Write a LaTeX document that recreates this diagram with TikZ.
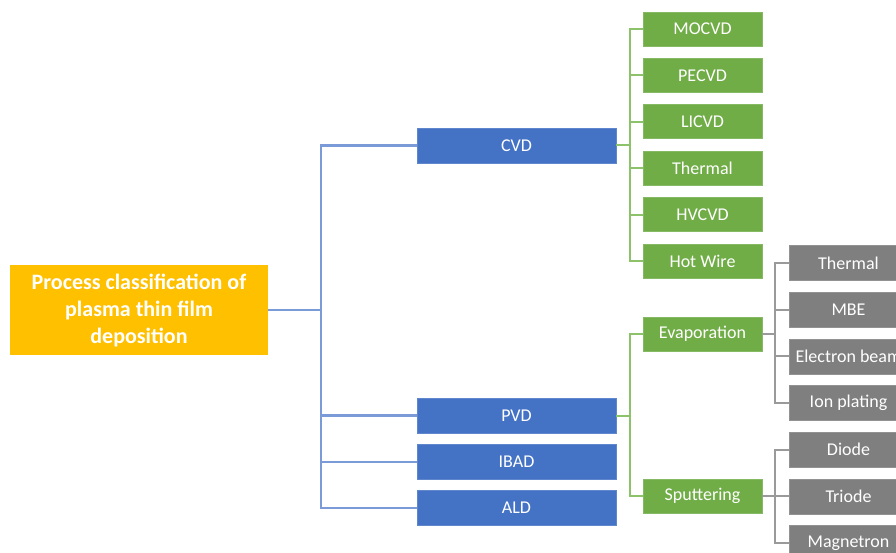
\documentclass[tikz,border=0pt]{standalone}
\usepackage{fontspec}
\setmainfont{Carlito}
\definecolor{rootfill}{HTML}{FFC000}
\definecolor{bluefill}{HTML}{4472C4}
\definecolor{greenfill}{HTML}{70AD47}
\definecolor{grayfill}{HTML}{7F7F7F}
\definecolor{blueline}{HTML}{7A9AD8}
\definecolor{greenline}{HTML}{8CC26A}
\definecolor{grayline}{HTML}{9A9A9A}
\begin{document}
\begin{tikzpicture}[x=1pt, y=-1pt,
    every node/.style={font=\fontsize{18}{20}\selectfont, text=white, inner sep=0pt},
    rootbox/.style={fill=rootfill, minimum width=258pt, minimum height=90pt, align=center,
      font=\bfseries\fontsize{22}{27}\selectfont},
    bluebox/.style={fill=bluefill, draw=bluefill!85!white, line width=0.6pt, minimum width=199pt, minimum height=35pt},
    greenbox/.style={fill=greenfill, draw=greenfill!85!white, line width=0.6pt, minimum width=119pt, minimum height=34pt},
    graybox/.style={fill=grayfill, draw=grayfill!85!white, line width=0.6pt, minimum width=119pt, minimum height=35pt},
    bline/.style={draw=blueline, line width=2.2pt},
    gline/.style={draw=greenline, line width=2pt},
    kline/.style={draw=grayline, line width=1.8pt}]
  \useasboundingbox (0,0) rectangle (896,553);

  \node[rootbox] (root) at (139,310) {Process classification of\\plasma thin film\\deposition};

  % first level
  \node[bluebox] (cvd) at (516.5,145.5) {CVD};
  \node[bluebox] (pvd) at (516.5,415.5) {PVD};
  \node[bluebox] (ibad) at (516.5,462) {IBAD};
  \node[bluebox] (ald) at (516.5,508) {ALD};
  \foreach \n in {cvd,pvd,ibad,ald}
    \draw[bline] (root.east) -- ++(53,0) |- (\n.west);

  % CVD methods
  \foreach \n/\t [count=\i from 0] in {mocvd/MOCVD, pecvd/PECVD, licvd/LICVD, thermal/Thermal, hvcvd/HVCVD, hotwire/Hot Wire} {
    \node[greenbox] (\n) at (702.5,{29+46.4*\i}) {\t};
    \draw[gline] (cvd.east) -- ++(14,0) |- (\n.west);
  }

  % PVD methods
  \node[greenbox] (evap) at (702.5,334) {Evaporation};
  \node[greenbox] (sput) at (702.5,496) {Sputtering};
  \foreach \n in {evap,sput}
    \draw[gline] (pvd.east) -- ++(14,0) |- (\n.west);

  % third level
  \foreach \n/\t [count=\i from 0] in {evthermal/Thermal, mbe/MBE, ebeam/Electron beam, ion/Ion plating} {
    \node[graybox] (\n) at (848.5,{263+46.67*\i}) {\t};
    \draw[kline] (evap.east) -- ++(13,0) |- (\n.west);
  }
  \foreach \n/\t [count=\i from 4] in {diode/Diode, triode/Triode, magnetron/Magnetron} {
    \node[graybox] (\n) at (848.5,{263+46.67*\i}) {\t};
    \draw[kline] (sput.east) -- ++(13,0) |- (\n.west);
  }
\end{tikzpicture}
\end{document}
